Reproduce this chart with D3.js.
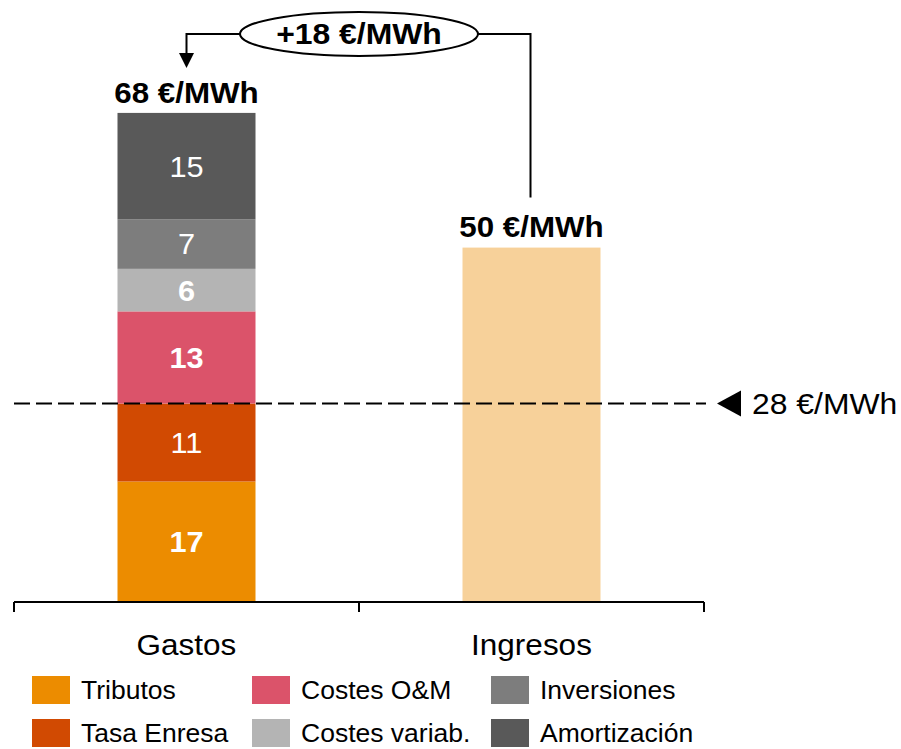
<!DOCTYPE html>
<html>
<head>
<meta charset="utf-8">
<script src="https://cdn.jsdelivr.net/npm/d3@7"></script>
<style>
  html, body { margin: 0; padding: 0; background: #fff; }
  svg { display: block; font-family: "Liberation Sans", Arial, sans-serif; }
</style>
</head>
<body>
<svg id="chart" width="901" height="749"></svg>
<script>
// Cost components of the Gastos bar, bottom to top
const components = ["Tributos", "Tasa Enresa", "Costes O&M", "Costes variab.", "Inversiones", "Amortización"];
const componentValues = [17, 11, 13, 6, 7, 15];
const componentColors = ["#EC8C00", "#D14A02", "#DB536A", "#B4B4B4", "#7D7D7D", "#595959"];
const componentBold = [true, false, true, true, false, false];

// Bars on the x axis
const categories = ["Gastos", "Ingresos"];
const gastosTotalLabel = 68;   // total as published (rounded)
const ingresosValue = 50;
const ingresosColor = "#F7D19A";

// Reference level and gap annotation
const referenceValue = 28;
const referenceLabel = "28 €/MWh";
const gapLabel = "+18 €/MWh";

const svg = d3.select("#chart");

const x = d3.scaleBand().domain(categories).range([14, 704]).paddingInner(0).paddingOuter(0);
const y = d3.scaleLinear().domain([0, 68]).range([602, 120]);
const barW = x.bandwidth() * 0.4;
const cx = c => x(c) + x.bandwidth() / 2;

// Horizontally widened text, as in the original typesetting
const wide = (sel, sx) => sel.attr("transform", function () {
  const tx = +this.getAttribute("x");
  return `translate(${tx * (1 - sx)},0) scale(${sx},1)`;
});

// Stacked Gastos bar
let acc = 0;
const stack = componentValues.map((v, i) => {
  const s = { name: components[i], v, y0: acc, y1: acc + v, color: componentColors[i], bold: componentBold[i] };
  acc += v;
  return s;
});
const stackTop = acc;

const g = svg.append("g");
g.selectAll("rect.seg").data(stack).join("rect")
  .attr("class", "seg")
  .attr("x", cx("Gastos") - barW / 2)
  .attr("width", barW)
  .attr("y", d => y(d.y1))
  .attr("height", d => y(d.y0) - y(d.y1))
  .attr("fill", d => d.color);

g.selectAll("text.seg").data(stack).join("text")
  .attr("class", "seg")
  .attr("x", cx("Gastos"))
  .attr("y", d => (y(d.y0) + y(d.y1)) / 2)
  .attr("dy", "0.36em")
  .attr("text-anchor", "middle")
  .attr("fill", "#fff")
  .attr("font-size", 29)
  .attr("font-weight", d => d.bold ? "bold" : "normal")
  .text(d => d.v)
  .call(wide, 1.06);

// Ingresos bar
g.append("rect")
  .attr("x", cx("Ingresos") - barW / 2)
  .attr("width", barW)
  .attr("y", y(ingresosValue))
  .attr("height", y(0) - y(ingresosValue))
  .attr("fill", ingresosColor);

// Totals above bars
const totals = [
  { c: "Gastos", v: gastosTotalLabel, top: stackTop, off: 10 },
  { c: "Ingresos", v: ingresosValue, top: ingresosValue, off: 11 }
];
g.selectAll("text.total").data(totals).join("text")
  .attr("class", "total")
  .attr("x", d => cx(d.c))
  .attr("y", d => y(d.top) - d.off)
  .attr("text-anchor", "middle")
  .attr("font-size", 29)
  .attr("font-weight", "bold")
  .attr("fill", "#000")
  .text(d => d.v + " €/MWh")
  .call(wide, 1.08);

// Reference dashed line
g.append("line")
  .attr("x1", 14).attr("x2", 706)
  .attr("y1", y(referenceValue)).attr("y2", y(referenceValue))
  .attr("stroke", "#000")
  .attr("stroke-width", 2)
  .attr("stroke-dasharray", "16,6");

const ry = y(referenceValue);
g.append("path")
  .attr("d", `M717,${ry} L741,${ry - 13} L741,${ry + 13} Z`)
  .attr("fill", "#000");
g.append("text")
  .attr("x", 752).attr("y", ry)
  .attr("dy", "0.36em")
  .attr("font-size", 29)
  .attr("fill", "#000")
  .text(referenceLabel)
  .call(wide, 1.1);

// X axis
const axis = d3.axisBottom(x).tickSize(0).tickFormat("");
const axisG = g.append("g").attr("transform", `translate(0,${y(0)})`).call(axis);
axisG.select(".domain").attr("stroke", "#000").attr("stroke-width", 2).attr("d", "M14,0H704");
const bounds = [14, 359, 704];
axisG.selectAll("line.bound").data(bounds).join("line")
  .attr("class", "bound")
  .attr("x1", d => d).attr("x2", d => d)
  .attr("y1", 0).attr("y2", 10)
  .attr("stroke", "#000").attr("stroke-width", 2);
axisG.selectAll("text.cat").data(categories).join("text")
  .attr("class", "cat")
  .attr("x", d => cx(d))
  .attr("y", 53)
  .attr("text-anchor", "middle")
  .attr("font-size", 30)
  .attr("fill", "#000")
  .text(d => d)
  .call(wide, 1.05);

// Gap annotation: ellipse with connector to both bars
const ey = 34, ecx = 359, erx = 119, ery = 22;
const leftX = cx("Gastos"), rightX = cx("Ingresos") - 1;
const tipY = ey + 34;
g.append("path")
  .attr("d", `M${rightX},${y(ingresosValue) - 50} V${ey} H${ecx + erx}`)
  .attr("fill", "none").attr("stroke", "#000").attr("stroke-width", 2);
g.append("path")
  .attr("d", `M${ecx - erx},${ey} H${leftX} V${tipY - 14}`)
  .attr("fill", "none").attr("stroke", "#000").attr("stroke-width", 2);
g.append("path")
  .attr("d", `M${leftX - 7.5},${tipY - 15} L${leftX + 7.5},${tipY - 15} L${leftX},${tipY} Z`)
  .attr("fill", "#000");
g.append("ellipse")
  .attr("cx", ecx).attr("cy", ey).attr("rx", erx).attr("ry", ery)
  .attr("fill", "#fff").attr("stroke", "#000").attr("stroke-width", 2);
g.append("text")
  .attr("x", ecx).attr("y", ey)
  .attr("dy", "0.36em")
  .attr("text-anchor", "middle")
  .attr("font-size", 29)
  .attr("font-weight", "bold")
  .attr("fill", "#000")
  .text(gapLabel)
  .call(wide, 1.1);

// Legend: three columns, two rows
const legendCols = [32, 252, 491];
const legendRows = [676, 719];
const legend = g.selectAll("g.leg").data(components).join("g")
  .attr("class", "leg")
  .attr("transform", (d, i) => `translate(${legendCols[Math.floor(i / 2)]},${legendRows[i % 2]})`);
legend.append("rect")
  .attr("width", 38).attr("height", 28)
  .attr("fill", (d, i) => componentColors[i]);
legend.append("text")
  .attr("x", 49).attr("y", 14)
  .attr("dy", "0.36em")
  .attr("font-size", 25.5)
  .attr("fill", "#000")
  .text(d => d)
  .call(wide, 1.04);
</script>
</body>
</html>
